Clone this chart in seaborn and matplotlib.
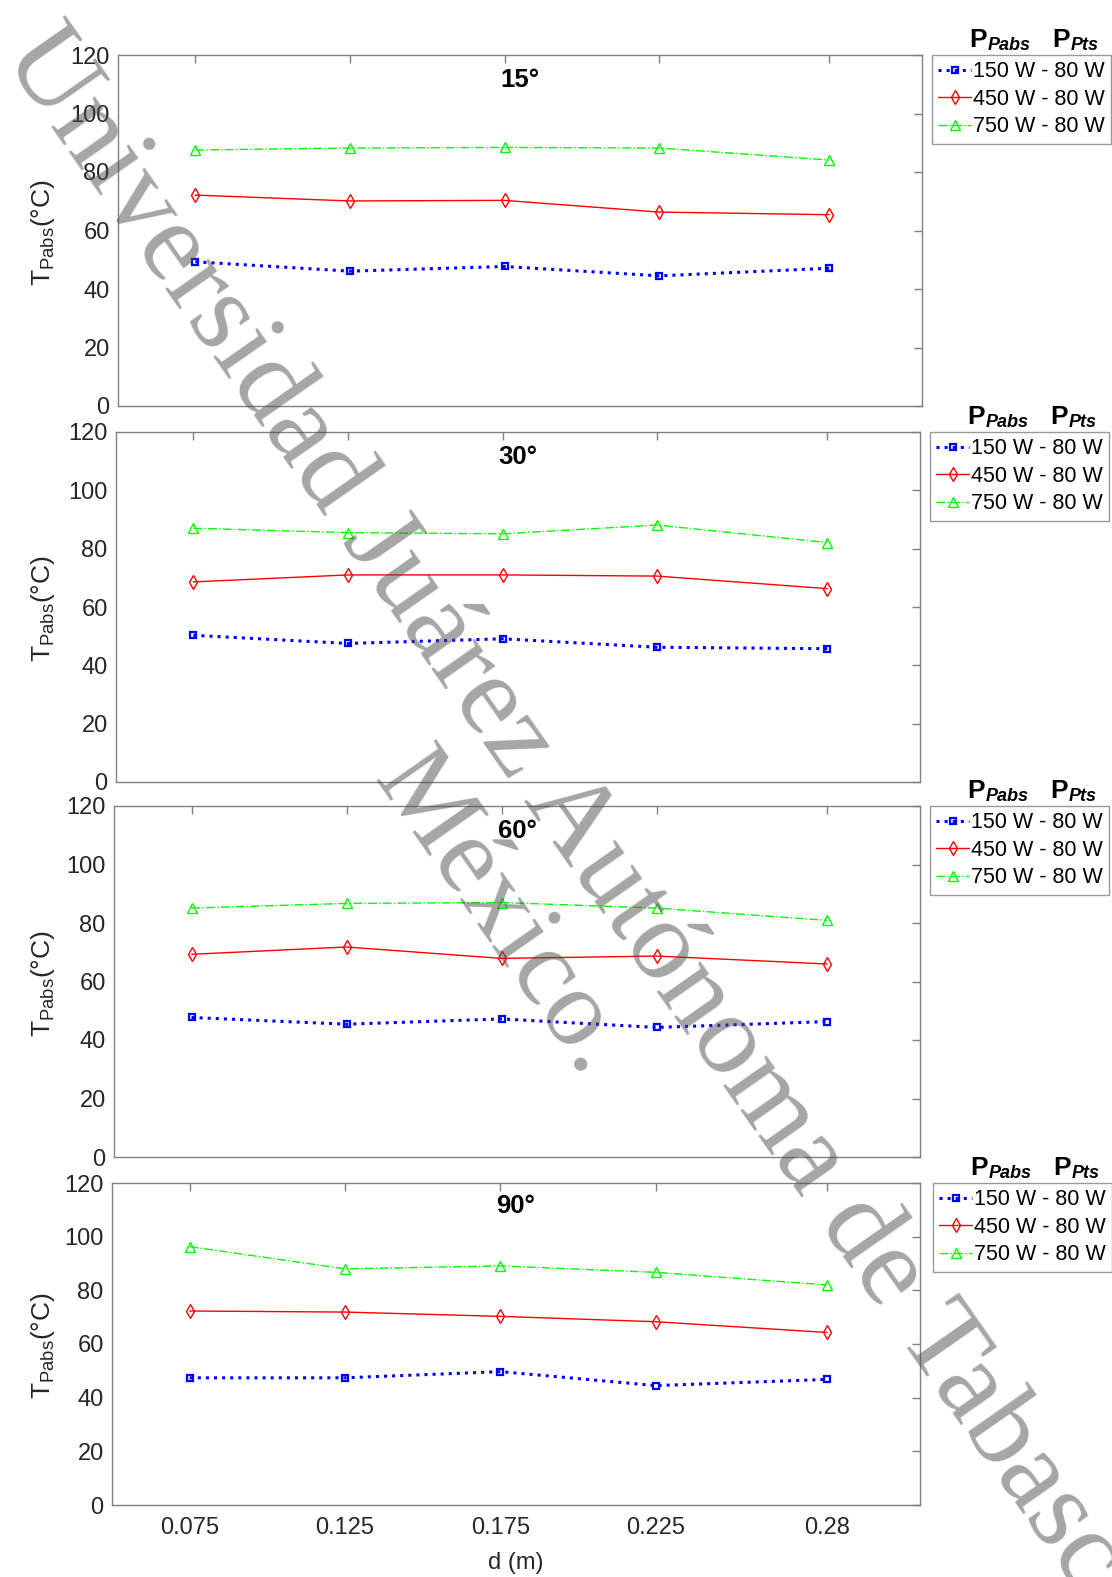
import matplotlib
matplotlib.use("Agg")
import matplotlib.pyplot as plt
import seaborn as sns
import numpy as np

# ---------------- data ----------------
d_values = [0.075, 0.125, 0.175, 0.225, 0.28]
d_ticklabels = ["0.075", "0.125", "0.175", "0.225", "0.28"]
angles = ["15°", "30°", "60°", "90°"]
series_labels = ["150 W - 80 W", "450 W - 80 W", "750 W - 80 W"]

# T_Pabs for 150 W, 450 W, 750 W at each angle
t150_15 = [49.3, 46.1, 47.7, 44.5, 47.1]
t450_15 = [72.1, 70.1, 70.3, 66.3, 65.4]
t750_15 = [87.5, 88.2, 88.4, 88.2, 84.1]

t150_30 = [50.3, 47.5, 49.1, 46.2, 45.7]
t450_30 = [68.6, 71.0, 71.0, 70.6, 66.3]
t750_30 = [87.0, 85.5, 85.1, 88.1, 82.1]

t150_60 = [47.7, 45.4, 47.2, 44.3, 46.3]
t450_60 = [69.3, 71.8, 67.9, 68.7, 66.0]
t750_60 = [85.1, 86.7, 87.0, 85.1, 80.9]

t150_90 = [47.4, 47.4, 49.7, 44.5, 46.8]
t450_90 = [72.3, 71.9, 70.3, 68.3, 64.3]
t750_90 = [96.3, 88.0, 89.1, 86.7, 82.0]

panel_data = [
    (t150_15, t450_15, t750_15),
    (t150_30, t450_30, t750_30),
    (t150_60, t450_60, t750_60),
    (t150_90, t450_90, t750_90),
]

# ---------------- style ----------------
sns.set_style("white")
plt.rcParams["font.family"] = ["Liberation Sans", "DejaVu Sans"]
plt.rcParams["mathtext.default"] = "regular"

W, H = 1112, 1577
fig = plt.figure(figsize=(W / 100, H / 100), dpi=100)
fig.patch.set_facecolor("white")

# axes boxes in pixels: left, right, top, bottom
boxes = [
    (118, 922, 55, 406),
    (116, 920, 432, 782),
    (114, 920, 806, 1157),
    (112, 920, 1183, 1505),
]
# legend box top-left (pixels)
leg_pos = [(932, 55), (930, 432), (930, 806), (933, 1183)]

spine_col = "#808080"
text_col = "#262626"
styles = [
    dict(color=(0, 0, 1), linestyle=":", marker="s", linewidth=2.2, markersize=5, mew=1.6),
    dict(color=(1, 0, 0), linestyle="-", marker="d", linewidth=1.0, markersize=7, mew=1.0),
    dict(color=(0, 1, 0), linestyle="-.", marker="^", linewidth=1.0, markersize=7, mew=1.0),
]

for i, (box, title, data) in enumerate(zip(boxes, angles, panel_data)):
    l, r, t, b = box
    ax = fig.add_axes([l / W, 1 - b / H, (r - l) / W, (b - t) / H])
    for vals, st, lab in zip(data, styles, series_labels):
        sns.lineplot(x=d_values, y=vals, ax=ax, color=st["color"],
                     linestyle=st["linestyle"], linewidth=st["linewidth"],
                     marker=st["marker"], markersize=st["markersize"],
                     markerfacecolor="none", markeredgecolor=st["color"],
                     markeredgewidth=st["mew"], legend=False)
    ax.set_xlim(0.05, 0.31)
    ax.set_ylim(0, 120)
    ax.set_xticks(d_values)
    ax.set_yticks(np.arange(0, 121, 20))
    ax.tick_params(direction="in", length=6, width=1, color=spine_col,
                   top=True, right=True, labelsize=17, labelcolor=text_col)
    ax.tick_params(axis="y", pad=6)
    ax.tick_params(axis="x", pad=9)
    if i == 3:
        ax.set_xticklabels(d_ticklabels)
        ax.set_xlabel("d (m)", fontsize=17, color=text_col, labelpad=9)
    else:
        ax.set_xticklabels([])
    for s in ax.spines.values():
        s.set_color(spine_col)
        s.set_linewidth(1.0)
        s.set_visible(True)
    ax.text(0.5, 0.928, title, transform=ax.transAxes, ha="center",
            va="center", fontsize=18.5, fontweight="bold", color="black")
    # y label
    fig.text(43 / W, 1 - ((t + b) / 2 + 2) / H, r"T$_{Pabs}$(°C)", rotation=90,
             ha="center", va="center", fontsize=19, color=text_col)
    # legend
    handles = ax.get_lines()[-3:]
    lx, ly = leg_pos[i]
    leg = ax.legend(handles, series_labels, loc="upper left",
                    bbox_to_anchor=(lx / W, 1 - ly / H),
                    bbox_transform=fig.transFigure, frameon=True,
                    fancybox=False, edgecolor=spine_col, fontsize=15.5,
                    handlelength=1.5, handletextpad=0.1, labelspacing=0.3,
                    borderpad=0.3, borderaxespad=0)
    leg.get_frame().set_linewidth(1.0)
    for txt in leg.get_texts():
        txt.set_color("black")
    # legend header P_Pabs  P_Pts
    hx, hy = lx + 37, ly - 8
    fig.text(hx / W, 1 - hy / H, "P", fontsize=19, fontweight="bold",
             ha="left", va="baseline", color="black")
    fig.text((hx + 19) / W, 1 - (hy + 3) / H, "Pabs", fontsize=13,
             fontweight="bold", fontstyle="italic", ha="left",
             va="baseline", color="black")
    fig.text((hx + 83) / W, 1 - hy / H, "P", fontsize=19, fontweight="bold",
             ha="left", va="baseline", color="black")
    fig.text((hx + 102) / W, 1 - (hy + 3) / H, "Pts", fontsize=13,
             fontweight="bold", fontstyle="italic", ha="left",
             va="baseline", color="black")

# watermark
wm_kw = dict(rotation=-55, rotation_mode="anchor", ha="left", va="baseline",
             fontsize=83, color="#4d4d4d", alpha=0.5,
             family=["Liberation Serif", "DejaVu Serif"])
fig.text(2 / W, 1 - 56 / H, "Universidad Juárez Autónoma de Tabasco.", **wm_kw)
fig.text(372 / W, 1 - 780 / H, "México.", **dict(wm_kw, fontsize=80))

fig.savefig("out.png", dpi=100)
